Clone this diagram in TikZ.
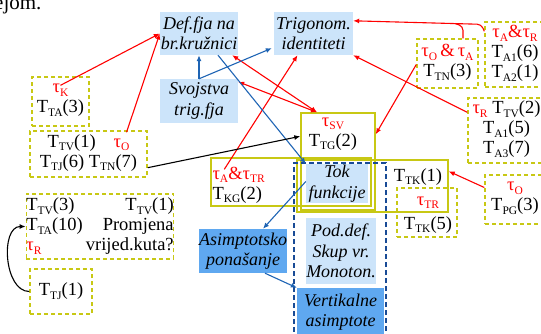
\documentclass[tikz,border=0pt]{standalone}
\usepackage{fontspec}
\setmainfont{Liberation Serif}
\usepackage{xcolor}
\usetikzlibrary{arrows.meta, calc}
\tikzset{font={\fontsize{18.5pt}{20pt}\selectfont}}
\definecolor{yelw}{RGB}{200,200,20}
\definecolor{lblue}{RGB}{204,228,250}
\definecolor{mblue}{RGB}{95,168,240}
\definecolor{ablue}{RGB}{30,100,180}
\definecolor{fblue}{RGB}{25,75,150}
\newcommand{\sbs}[1]{\raisebox{-3.5pt}{\fontsize{11.5pt}{12pt}\selectfont #1}}
\newcommand{\Tlab}[2]{T\sbs{#1}(#2)}
\newcommand{\taulab}[1]{\textcolor{red}{τ\sbs{#1}}}
\newcommand{\ramp}{\textcolor{red}{\&}}

\begin{document}
\begin{tikzpicture}[x=1pt, y=-1pt,
  >={Latex[length=6pt, width=5pt]},
  topic/.style={rectangle, fill=lblue, inner sep=0pt, align=center, font={\fontsize{18pt}{20.5pt}\selectfont\itshape}},
  asym/.style={topic, fill=mblue},
  txt/.style={align=center, execute at begin node=\strut, execute at end node=\strut},
  dbox/.style={txt, rectangle, draw=yelw, line width=1.4pt, dash pattern=on 4pt off 3pt, inner sep=0pt},
  sbox/.style={rectangle, draw=yelw, line width=1.4pt, inner sep=0pt},
  frame/.style={rectangle, draw=fblue, line width=1.1pt, dash pattern=on 5pt off 3pt},
  rarr/.style={->, red, line width=1.1pt},
  barr/.style={->, ablue, line width=1.1pt},
  karr/.style={->, black, line width=1.1pt}
]
\useasboundingbox (0,0) rectangle (541,333);
\node[anchor=base east, font={\fontsize{21pt}{24pt}\selectfont}] (frag) at (45,9) {ejom.};

\node[topic, minimum width=78pt, minimum height=43pt] (def) at (199,33.5) {Def.fja na\\br.kružnici};
\node[topic, minimum width=79pt, minimum height=43pt] (trig) at (313.5,33.5) {Trigonom.\\identiteti};
\node[topic, minimum width=78pt, minimum height=44pt] (prop) at (199,101) {Svojstva\\trig.fja};
\node[topic, minimum width=62pt, minimum height=39pt] (tok) at (337,183.5) {Tok\\funkcije};
\node[topic, minimum width=70pt, minimum height=66pt] (pod) at (341,251) {Pod.def.\\Skup vr.\\Monoton.};
\node[asym, minimum width=88pt, minimum height=44pt] (asim) at (243,251) {Asimptotsko\\ponašanje};
\node[asym, minimum width=87pt, minimum height=48pt] (vert) at (340.5,312) {Vertikalne\\asimptote};

\node[sbox, minimum width=74pt, minimum height=97pt] (tgbox) at (338,161.5) {};
\node[sbox, minimum width=160pt, minimum height=48pt] (kgbox) at (291,182) {};
\node[sbox, minimum width=151pt, minimum height=52pt] (tkbox) at (372.5,186) {};
\node[txt] (tgtxt) at (333,135) {\taulab{SV}\\\Tlab{TG}{2}};
\node[txt, align=left, anchor=west] (kgtxt) at (209,186) {\taulab{A}\ramp\taulab{TR}\\\Tlab{KG}{2}};
\node[txt] (tkone) at (418,177) {\Tlab{TK}{1}};
\node[frame, minimum width=92pt, minimum height=180pt] (tokframe) at (340,253) {};

\node[dbox, minimum width=57pt, minimum height=49pt] (kbox) at (60.5,101.5) {\taulab{K}\\\Tlab{TA}{3}};
\node[dbox, minimum width=117pt, minimum height=46pt] (tjbox) at (88.5,154) {\Tlab{TV}{1}\hspace{18pt}\taulab{O}\\\Tlab{TJ}{6} \Tlab{TN}{7}};
\node[dbox, minimum width=140pt, minimum height=65pt] (pbox) at (100,226.5) {\begin{tabular}{@{}l@{\hspace{3pt}}r@{}}\Tlab{TV}{3} & \Tlab{TV}{1}\\ \Tlab{TA}{10} & Promjena\\ \taulab{R} & vrijed.kuta?\end{tabular}};
\node[dbox, minimum width=62pt, minimum height=45pt] (tjone) at (61,291.5) {\Tlab{TJ}{1}};
\node[dbox, minimum width=61pt, minimum height=49pt] (oAbox) at (447.5,63.5) {\taulab{O}\,\ramp\,\taulab{A}\\\Tlab{TN}{3}};
\node[dbox, minimum width=60pt, minimum height=65pt] (aRbox) at (515,54.5) {\taulab{A}\ramp\taulab{R}\\\Tlab{A1}{6}\\\Tlab{A2}{1}};
\node[dbox, minimum width=77pt, minimum height=65pt] (rTVbox) at (506.5,130.5) {\taulab{R} \Tlab{TV}{2}\\\Tlab{A1}{5}\\\Tlab{A3}{7}};
\node[dbox, minimum width=60pt, minimum height=49pt] (tkfive) at (427,212.5) {};
\node[txt] (tktxt) at (428,216) {\taulab{TR}\\[4pt]\Tlab{TK}{5}};
\node[dbox, minimum width=60pt, minimum height=49pt] (pgbox) at (515,199.5) {\taulab{O}\\\Tlab{PG}{3}};

\coordinate (svtip) at ($(tgbox.north)+(-21,0)$);
\draw[rarr] ($(kbox.north)+(0,9)$) -- (def.west);
\draw[rarr] ($(tjbox.north)+(38,2)$) -- (def.west);
\draw[rarr, <->] ($(def.south east)+(-6,0)$) -- (svtip);
\draw[rarr, <->] ($(prop.north east)+(0,3)$) -- (svtip);
\draw[rarr] ($(kgbox.north west)+(14,12)$) -- ($(trig.south)+(-16,0)$);
\draw[rarr, rounded corners=4pt] ($(aRbox.north west)+(0,10)$) -- ++(-3,-7) -- ($(trig.north east)+(0,9)$);
\draw[red, line width=1.1pt, rounded corners=4pt] ($(oAbox.north)+(15.5,0)$) -- ++(0,-12) -- ++(-8,-2.8);
\draw[rarr] ($(oAbox.west)+(0,1)$) -- ($(tgbox.north east)+(0,22)$);
\draw[rarr] ($(rTVbox.north west)+(0,15)$) -- (trig.south east);
\draw[rarr] ($(pgbox.west)+(0,-12)$) -- ($(tkbox.north east)+(0,12)$);

\draw[barr] (prop.north) -- (def.south);
\draw[barr] (prop.north) -- ($(trig.south west)+(-2,-7)$);
\draw[barr] ($(def.south)+(19,0)$) -- (tok.north west);
\draw[barr] ($(tok.west)+(0,-2)$) -- ($(asim.north)+(20,0)$);
\draw[barr] ($(asim.south)+(22,0)$) -- (vert.north west);

\draw[karr] ($(tjbox.south east)+(0,-10)$) -- ($(tgbox.north west)+(0,24)$);
\draw[karr] (tjone.west) to[out=180, in=180] (pbox.west);
\end{tikzpicture}
\end{document}
